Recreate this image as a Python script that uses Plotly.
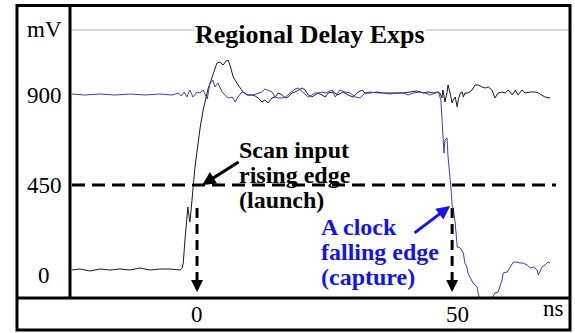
import plotly.graph_objects as go

# ---------------- data (time in ns, voltage in mV) ----------------
black_t = [-24.5, -22.9, -21.0, -19.0, -17.1, -15.1, -13.1, -11.2, -9.2, -7.3,
           -5.3, -3.3, -2.9, -2.7, -2.4, -2.0, -1.8, -1.6, -1.4, -1.2,
           -1.0, -0.8, -0.6, -0.4, 0.0, 0.6, 1.2, 1.8, 2.2, 2.5,
           2.9, 3.3, 3.9, 4.5, 5.1, 5.7, 6.1, 6.5, 7.1, 7.8,
           8.4, 9.0, 9.8, 10.8, 11.4, 12.0, 12.7, 13.3, 13.9, 14.7,
           15.3, 15.9, 16.7, 17.3, 17.8, 18.6, 19.2, 19.8, 20.6, 21.2,
           21.8, 22.5, 23.1, 23.7, 24.5, 25.1, 25.7, 26.7, 27.6, 28.6,
           29.6, 30.6, 31.6, 32.4, 32.9, 33.9, 35.3, 36.5, 37.8, 39.2,
           40.4, 41.8, 43.1, 44.3, 45.3, 46.3, 47.1, 47.6, 48.0, 48.2,
           48.6, 49.0, 49.2, 49.6, 50.0, 50.2, 50.6, 51.0, 51.2, 51.6,
           52.0, 52.2, 52.5, 53.1, 53.9, 54.5, 55.1, 55.9, 56.5, 57.1,
           57.8, 58.4, 59.0, 59.8, 60.4, 61.0, 61.8, 62.4, 62.9, 63.7,
           64.3, 65.3, 66.3, 66.9, 67.6, 68.2, 69.2]
black_mv = [25, 30, 20, 30, 25, 30, 25, 35, 25, 30,
            30, 25, 35, 60, 165, 300, 340, 300, 265, 315,
            385, 430, 485, 540, 625, 735, 825, 900, 935, 955,
            985, 1025, 1060, 1065, 1050, 1070, 1075, 1045, 990, 960,
            940, 915, 900, 900, 895, 885, 865, 875, 860, 885,
            890, 910, 900, 885, 890, 910, 915, 925, 935, 925,
            900, 890, 900, 910, 900, 890, 910, 915, 900, 915,
            900, 890, 915, 925, 910, 910, 915, 910, 910, 910,
            910, 915, 920, 910, 915, 910, 915, 910, 885, 925,
            865, 915, 950, 910, 860, 875, 890, 840, 875, 910,
            915, 890, 910, 910, 925, 950, 950, 940, 935, 940,
            925, 885, 910, 915, 910, 925, 900, 925, 900, 925,
            910, 915, 915, 910, 900, 890, 885]

blue_t = [-24.5, -22.0, -19.0, -16.1, -13.1, -10.2, -7.3, -4.9, -3.7, -3.1,
          -2.5, -2.0, -1.4, -0.8, 0.0, 0.6, 1.2, 2.0, 2.5, 3.1,
          3.5, 4.1, 4.9, 5.5, 6.1, 6.9, 7.5, 8.0, 8.8, 9.4,
          10.0, 11.0, 12.0, 12.7, 13.3, 13.9, 14.7, 15.3, 15.9, 16.7,
          17.3, 17.8, 18.6, 19.2, 19.8, 20.6, 21.2, 21.8, 22.5, 23.1,
          23.7, 24.5, 25.1, 25.7, 26.5, 27.1, 28.0, 29.0, 30.0, 31.0,
          32.0, 32.9, 33.9, 35.3, 36.5, 37.8, 39.2, 40.4, 41.4, 42.4,
          43.7, 44.7, 45.7, 46.7, 47.3, 47.8, 48.0, 48.2, 48.4, 48.6,
          49.0, 49.2, 49.6, 49.8, 50.0, 50.2, 50.6, 51.0, 51.6, 52.2,
          52.5, 52.9, 53.1, 53.5, 53.9, 54.1, 54.9, 55.1, 55.5, 56.3,
          57.1, 57.8, 58.4, 59.0, 59.4, 59.8, 60.0, 60.8, 61.4, 62.0,
          62.7, 63.3, 63.9, 64.7, 65.3, 65.9, 66.7, 66.9, 67.6, 68.2,
          68.8, 69.2]
blue_mv = [905, 900, 905, 900, 905, 900, 905, 900, 910, 895,
           915, 890, 925, 890, 915, 910, 925, 880, 955, 975,
           940, 960, 915, 900, 885, 890, 865, 890, 915, 910,
           900, 900, 910, 915, 930, 925, 915, 890, 885, 885,
           890, 900, 915, 930, 935, 915, 900, 890, 900, 910,
           910, 915, 910, 915, 925, 890, 925, 915, 910, 890,
           885, 910, 915, 910, 910, 905, 910, 910, 900, 910,
           915, 910, 900, 910, 915, 875, 775, 675, 610, 675,
           685, 590, 490, 425, 350, 335, 260, 140, 135, 110,
           60, 40, 10, -10, -25, -40, -60, -90, -125, -150,
           -150, -115, -90, -85, -60, -25, 10, 15, 40, 65,
           65, 60, 60, 50, 35, 40, 25, 0, 40, 50,
           65, 60]

y_tick_vals = [0, 450, 900]
y_tick_text = ["0", "450", "900"]
x_tick_vals = [0, 50]
x_tick_text = ["0", "50"]
THRESHOLD = 450
LAUNCH_T = 0
CAPTURE_T = 50

TITLE = "Regional Delay Exps"
BLACK_NOTE = ["Scan input", "rising edge", "(launch)"]
BLUE_NOTE = ["A clock", "falling edge", "(capture)"]

# ---------------- layout helpers ----------------
W, H = 575, 333
L, R, T, B = 70, 4, 5, 35
PW, PH = W - L - R, H - T - B
FONT = "Liberation Serif"
BLUE_TXT = "#1414e6"
BLUE_LINE = "#3c3cc4"
NOTE_SIZE = 24
NOTE_STEP = 24.8


def px(x):
    return (x - L) / PW


def py(y):
    return (H - B - y) / PH


fig = go.Figure()
fig.add_trace(go.Scatter(x=black_t, y=black_mv, mode="lines",
                         line=dict(color="#1a1a1a", width=1), showlegend=False))
fig.add_trace(go.Scatter(x=blue_t, y=blue_mv, mode="lines",
                         line=dict(color=BLUE_LINE, width=1), showlegend=False))

shapes = [
    # light grid line at top
    dict(type="line", xref="paper", yref="paper", x0=0, x1=1, y0=py(30), y1=py(30),
         line=dict(color="#b4b4b4", width=1), layer="below"),
    # threshold dashed line
    dict(type="line", xref="paper", yref="y", x0=px(72), x1=px(556), y0=THRESHOLD, y1=THRESHOLD,
         line=dict(color="black", width=3, dash="13px,7px")),
    # vertical dashed arrow shafts
    dict(type="line", xref="x", yref="paper", x0=LAUNCH_T, x1=LAUNCH_T, y0=py(208), y1=py(283),
         line=dict(color="black", width=3, dash="10px,6px")),
    dict(type="line", xref="x", yref="paper", x0=CAPTURE_T, x1=CAPTURE_T, y0=py(208), y1=py(283),
         line=dict(color="black", width=3, dash="10px,6px")),
    # frame
    dict(type="rect", xref="paper", yref="paper", x0=px(17), x1=px(570), y0=py(330), y1=py(5.5),
         line=dict(color="black", width=3)),
    dict(type="line", xref="paper", yref="paper", x0=0, x1=0, y0=0, y1=py(5.5),
         line=dict(color="black", width=3)),
    dict(type="line", xref="paper", yref="paper", x0=px(17), x1=px(570), y0=0, y1=0,
         line=dict(color="black", width=3)),
]

ann = []
# title (white box hides the grid line)
ann.append(dict(text="<b>%s</b>" % TITLE, xref="paper", yref="paper", x=px(310), y=py(34),
                xanchor="center", yanchor="middle", showarrow=False, bgcolor="white", borderpad=0,
                font=dict(family=FONT, size=26, color="black")))
# y labels
ann.append(dict(text="mV", xref="paper", yref="paper", x=px(44), y=py(29), xanchor="center",
                yanchor="middle", showarrow=False, font=dict(family=FONT, size=23, color="black")))
for v, t in zip(y_tick_vals, y_tick_text):
    ann.append(dict(text=t, xref="paper", yref="y", x=px(44), y=v, xanchor="center",
                    yanchor="middle", showarrow=False, font=dict(family=FONT, size=23, color="black")))
# x labels
for v, t, sh in zip(x_tick_vals, x_tick_text, [0, 5]):
    ann.append(dict(text=t, xref="x", yref="paper", x=v, y=py(314), xshift=sh, xanchor="center",
                    yanchor="middle", showarrow=False, font=dict(family=FONT, size=23, color="black")))
ann.append(dict(text="ns", xref="paper", yref="paper", x=px(553), y=py(309), xanchor="center",
                yanchor="middle", showarrow=False, font=dict(family=FONT, size=23, color="black")))

# note texts (one annotation per line so the spacing matches the reference)
for i, line in enumerate(BLACK_NOTE):
    ann.append(dict(text="<b>%s</b>" % line, xref="paper", yref="paper", x=px(237),
                    y=py(150 + i * NOTE_STEP), xanchor="left", yanchor="middle", showarrow=False,
                    font=dict(family=FONT, size=NOTE_SIZE, color="black")))
for i, line in enumerate(BLUE_NOTE):
    ann.append(dict(text="<b>%s</b>" % line, xref="paper", yref="paper", x=px(319),
                    y=py(227 + i * NOTE_STEP), xanchor="left", yanchor="middle", showarrow=False,
                    font=dict(family=FONT, size=NOTE_SIZE, color=BLUE_TXT)))

# arrows
ann.append(dict(text="", x=1.0, y=THRESHOLD, xref="x", yref="y", showarrow=True,
                ax=38, ay=-24, arrowhead=2, arrowsize=0.9, arrowwidth=3, arrowcolor="black"))
ann.append(dict(text="", x=49.6, y=345, xref="x", yref="y", showarrow=True,
                ax=-37, ay=28, arrowhead=2, arrowsize=0.9, arrowwidth=3, arrowcolor=BLUE_TXT))
for tx in [LAUNCH_T, CAPTURE_T]:
    ann.append(dict(text="", x=tx, y=py(292), xref="x", yref="paper", showarrow=True,
                    ax=0, ay=-12, arrowhead=2, arrowsize=0.8, arrowwidth=3, arrowcolor="black"))

fig.update_layout(
    width=W, height=H,
    margin=dict(l=L, r=R, t=T, b=B),
    paper_bgcolor="white", plot_bgcolor="white",
    xaxis=dict(range=[-24.9, 73.3], visible=False, showgrid=False, zeroline=False),
    yaxis=dict(range=[-115, 1350], visible=False, showgrid=False, zeroline=False),
    shapes=shapes, annotations=ann,
    showlegend=False,
)

fig.write_html("out.html")
